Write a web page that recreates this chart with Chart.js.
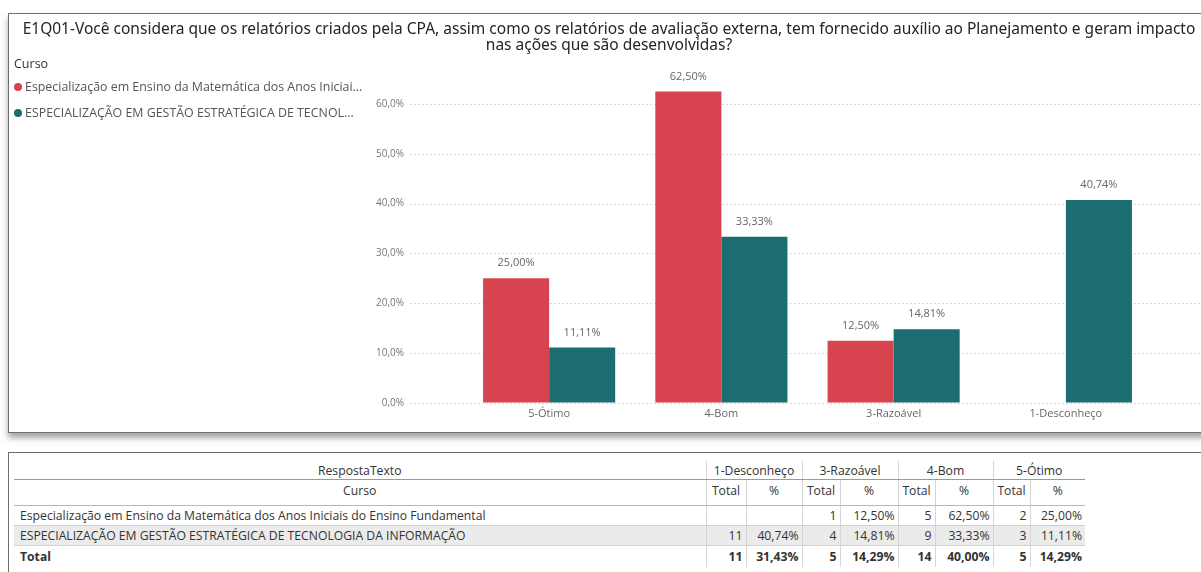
<!DOCTYPE html>
<html lang="pt-BR">
<head>
<meta charset="utf-8">
<title>E1Q01 - CPA</title>
<script src="https://cdn.jsdelivr.net/npm/chart.js@4.4.1/dist/chart.umd.min.js"></script>
<style>
  html, body { margin: 0; padding: 0; background: #fff; width: 1201px; height: 572px; overflow: hidden; }
  body { position: relative; font-family: 'Open Sans', 'Noto Sans', sans-serif; color: #333; }
  #chartPanel {
    position: absolute; left: 8px; top: 13px; width: 1230px; height: 418px;
    border: 1px solid #6f6f6f; box-shadow: 0 5px 6px rgba(0,0,0,0.35); background: #fff;
  }
  #chartPanel canvas { position: absolute; left: 0; top: 0; }
  #legend { position: absolute; left: 5px; top: 40px; font-size: 12.4px; color: #555; }
  #legend .title { font-size: 12.5px; color: #333; height: 20px; line-height: 20px; }
  #legend .item { height: 26px; line-height: 26px; white-space: nowrap; }
  #legend .dot { display: inline-block; width: 8px; height: 8px; border-radius: 50%; margin-right: 3px; vertical-align: 0px; }
  #tablePanel {
    position: absolute; left: 8px; top: 452px; width: 1230px; height: 140px;
    border: 1px solid #6f6f6f; background: #fff;
  }
  #matrix { position: absolute; left: 5px; top: 8px; border-collapse: collapse; font-size: 12.2px; color: #333; table-layout: fixed; }
  #matrix td { padding: 0 3px; white-space: nowrap; overflow: hidden; }
  #matrix .h1 td { height: 18px; text-align: center; border-bottom: 1px solid #9a9a9a; }
  #matrix .h2 td { height: 26px; text-align: center; vertical-align: top; padding-top: 2px; box-sizing: border-box; border-bottom: 1px solid #9dbfe3; }
  #matrix .num { text-align: right; border-left: 1px solid #d6d6d6; }
  #matrix .grp { border-left: 1px solid #d6d6d6; }
  #matrix .r td { height: 19px; border-bottom: 1px solid #d0d0d0; }
  #matrix .r.alt td { background: #ebebeb; }
  #matrix .tot td { height: 21px; font-weight: bold; }
  #matrix .name { text-align: left; padding-left: 6px; }
</style>
</head>
<body>
<div id="chartPanel">
  <canvas id="barChart" width="1200" height="416"></canvas>
  <div id="legend"></div>
</div>
<div id="tablePanel">
  <table id="matrix"></table>
</div>
<script>
// Data
const categories = ['5-Ótimo', '4-Bom', '3-Razoável', '1-Desconheço'];
const matematicaPct = [25.00, 62.50, 12.50, null];
const gestaoPct = [11.11, 33.33, 14.81, 40.74];

const cursoNames = [
  'Especialização em Ensino da Matemática dos Anos Iniciais do Ensino Fundamental',
  'ESPECIALIZAÇÃO EM GESTÃO ESTRATÉGICA DE TECNOLOGIA DA INFORMAÇÃO'
];
const legendLabels = [
  'Especialização em Ensino da Matemática dos Anos Iniciai...',
  'ESPECIALIZAÇÃO EM GESTÃO ESTRATÉGICA DE TECNOL...'
];
const seriesColors = ['#D7434F', '#1B6D72'];

// Matrix table below the chart
const tableCols = ['1-Desconheço', '3-Razoável', '4-Bom', '5-Ótimo'];
const matematicaTotal = [null, 1, 5, 2];
const matematicaTablePct = [null, 12.50, 62.50, 25.00];
const gestaoTotal = [11, 4, 9, 3];
const gestaoTablePct = [40.74, 14.81, 33.33, 11.11];
const totalCount = [11, 5, 14, 5];
const totalPct = [31.43, 14.29, 40.00, 14.29];

const yTickStep = 10;
const yMax = 65;

const fmtPct = (v, d) => v.toFixed(d).replace('.', ',') + '%';

// Legend (html)
const legendEl = document.getElementById('legend');
legendEl.innerHTML = '<div class="title">Curso</div>' + legendLabels.map((l, i) =>
  `<div class="item"><span class="dot" style="background:${seriesColors[i]}"></span>${l}</div>`
).join('');

// Horizontal dotted gridlines that run past the plot area like in Power BI
const gridPlugin = {
  id: 'wideGrid',
  beforeDatasetsDraw(chart) {
    const { ctx, scales: { y } } = chart;
    ctx.save();
    ctx.strokeStyle = '#d9d9d9';
    ctx.lineWidth = 1;
    ctx.setLineDash([2, 2]);
    y.ticks.forEach(t => {
      const py = Math.round(y.getPixelForValue(t.value)) + 0.5;
      ctx.beginPath();
      ctx.moveTo(401, py);
      ctx.lineTo(chart.width, py);
      ctx.stroke();
    });
    ctx.restore();
  }
};

// Value labels above the bars
const valueLabels = {
  id: 'valueLabels',
  afterDatasetsDraw(chart) {
    const { ctx } = chart;
    ctx.save();
    ctx.font = '11px "Open Sans", sans-serif';
    ctx.fillStyle = '#666';
    ctx.textAlign = 'center';
    ctx.textBaseline = 'middle';
    chart.data.datasets.forEach((ds, i) => {
      chart.getDatasetMeta(i).data.forEach((bar, j) => {
        const v = ds.data[j];
        if (v === null || v === undefined) return;
        ctx.fillText(fmtPct(v, 2), bar.x, bar.y - 15);
      });
    });
    ctx.restore();
  }
};

const ctx = document.getElementById('barChart').getContext('2d');
const chart = new Chart(ctx, {
  type: 'bar',
  data: {
    labels: categories,
    datasets: [
      { label: cursoNames[0], data: matematicaPct, backgroundColor: seriesColors[0], categoryPercentage: 0.767, barPercentage: 1 },
      { label: cursoNames[1], data: gestaoPct, backgroundColor: seriesColors[1], categoryPercentage: 0.767, barPercentage: 1 }
    ]
  },
  options: {
    responsive: false,
    animation: false,
    layout: { padding: 0 },
    plugins: {
      legend: { display: false },
      tooltip: { enabled: false },
      title: {
        display: true,
        text: [
          'E1Q01-Você considera que os relatórios criados pela CPA, assim como os relatórios de avaliação externa, tem fornecido auxílio ao Planejamento e geram impacto',
          'nas ações que são desenvolvidas?'
        ],
        color: '#252423',
        font: { family: '"Noto Sans", sans-serif', size: 15.5, weight: 'normal', lineHeight: 1.03 },
        padding: { top: 8, bottom: 25 }
      }
    },
    scales: {
      x: {
        grid: { display: false, drawTicks: false },
        border: { display: false },
        ticks: { color: '#666', font: { family: '"Open Sans", sans-serif', size: 11 }, padding: 4, maxRotation: 0 },
        afterFit(scale) { scale.height = 27; }
      },
      y: {
        min: 0,
        max: yMax,
        // invisible tick marks only reserve room between the labels and the plot
        grid: { display: true, color: 'rgba(0,0,0,0)', drawOnChartArea: false, drawTicks: true, tickLength: 53 },
        border: { display: false },
        ticks: {
          stepSize: yTickStep,
          includeBounds: false,
          color: '#777',
          font: { family: '"Open Sans", sans-serif', size: 10 },
          padding: 6,
          callback: v => fmtPct(v, 1)
        },
        afterFit(scale) { scale.width = 454; }
      },
      // empty right-hand axis keeps the plot narrower while the title stays centred
      yRight: {
        position: 'right',
        grid: { display: false, drawTicks: false },
        border: { display: false },
        ticks: { display: false },
        afterFit(scale) { scale.width = 57; }
      }
    }
  },
  plugins: [gridPlugin, valueLabels]
});

// Build matrix table
const cell = (v, d) => v === null ? '' : (d === undefined ? String(v) : fmtPct(v, d));
const colWidths = [40, 56, 38, 58, 37, 58, 37, 55];
let html = '<colgroup><col style="width:692px">' + colWidths.map(w => `<col style="width:${w}px">`).join('') + '</colgroup>';
html += '<tr class="h1"><td>RespostaTexto</td>' + tableCols.map(c => `<td colspan="2" class="grp">${c}</td>`).join('') + '</tr>';
html += '<tr class="h2"><td>Curso</td>' + tableCols.map(() => '<td class="grp">Total</td><td class="grp">%</td>').join('') + '</tr>';
const rows = [
  { cls: 'r', name: cursoNames[0], tot: matematicaTotal, pct: matematicaTablePct },
  { cls: 'r alt', name: cursoNames[1], tot: gestaoTotal, pct: gestaoTablePct },
  { cls: 'tot', name: 'Total', tot: totalCount, pct: totalPct }
];
rows.forEach(r => {
  html += `<tr class="${r.cls}"><td class="name">${r.name}</td>` +
    tableCols.map((_, i) => `<td class="num">${cell(r.tot[i])}</td><td class="num">${cell(r.pct[i], 2)}</td>`).join('') + '</tr>';
});
document.getElementById('matrix').innerHTML = html;
</script>
</body>
</html>
